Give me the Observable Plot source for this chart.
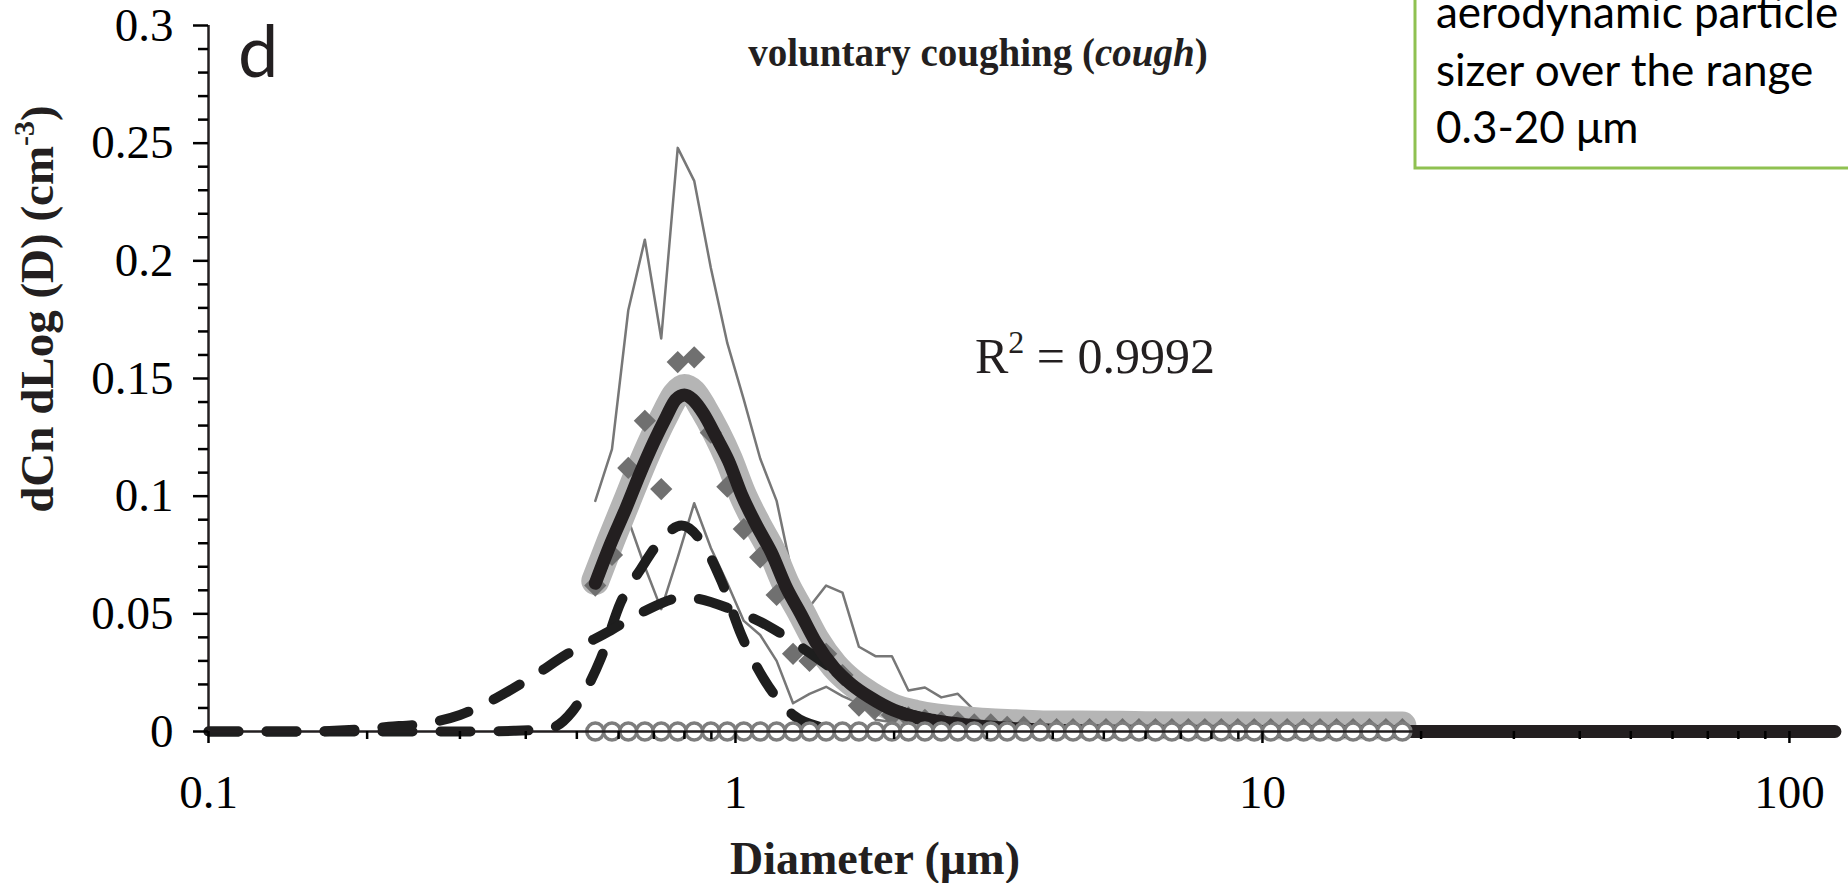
<!DOCTYPE html>
<html><head><meta charset="utf-8">
<script src="https://cdn.jsdelivr.net/npm/d3@7"></script>
<script src="https://cdn.jsdelivr.net/npm/@observablehq/plot@0.6"></script>
<style>html,body{margin:0;padding:0;background:#fff;overflow:hidden}</style>
</head><body><div id="chart"></div>
<script>
// ---------- data ----------
// APS channel mid-point diameters (µm)
const diam = [0.542, 0.583, 0.626, 0.673, 0.723, 0.777, 0.835, 0.898, 0.965, 1.037,
  1.114, 1.197, 1.286, 1.382, 1.486, 1.596, 1.715, 1.843, 1.981, 2.129,
  2.288, 2.458, 2.642, 2.839, 3.051, 3.278, 3.523, 3.786, 4.068, 4.371,
  4.698, 5.048, 5.425, 5.829, 6.264, 6.732, 7.234, 7.774, 8.354, 8.977,
  9.647, 10.37, 11.14, 11.97, 12.86, 13.82, 14.86, 15.96, 17.15, 18.43];
// mean concentration (diamonds)
const meanVal = [0.062, 0.075, 0.112, 0.132, 0.103, 0.157, 0.159, 0.127, 0.104, 0.086,
  0.074, 0.058, 0.033, 0.030, 0.033, 0.024, 0.011, 0.010, 0.007, 0.006,
  0.005, 0.004, 0.004, 0.003, 0.003, 0.002, 0.002, 0.001, 0.001, 0.001,
  0.001, 0.001, 0.001, 0.001, 0.001, 0.001, 0.001, 0.001, 0.001, 0.001,
  0.001, 0.001, 0.001, 0.001, 0.001, 0.001, 0.001, 0.001, 0.001, 0.001];
// zero reference (open circles)
const zeroVal = [0,0,0,0,0,0,0,0,0,0, 0,0,0,0,0,0,0,0,0,0, 0,0,0,0,0,0,0,0,0,0,
  0,0,0,0,0,0,0,0,0,0, 0,0,0,0,0,0,0,0,0,0];
// upper and lower thin envelopes (first 29 channels)
const upperVal = [0.098, 0.120, 0.179, 0.209, 0.167, 0.248, 0.234, 0.197, 0.165, 0.141,
  0.116, 0.098, 0.065, 0.053, 0.062, 0.059, 0.036, 0.032, 0.032, 0.0174,
  0.0187, 0.0145, 0.016, 0.009, 0.007, 0.005, 0.004, 0.003, 0.002];
const lowerVal = [0.060, 0.075, 0.090, 0.070, 0.052, 0.074, 0.097, 0.078, 0.063, 0.047,
  0.041, 0.030, 0.012, 0.016, 0.019, 0.015, 0.012, 0.005, 0.004, 0.003,
  0.003, 0.002, 0.002, 0.002, 0.001, 0.001, 0.001, 0.001, 0.001];
// total fitted distribution (thick black)
const fitD = [0.542, 0.58, 0.62, 0.66, 0.70, 0.74, 0.77, 0.80, 0.83, 0.87,
  0.92, 0.97, 1.03, 1.10, 1.17, 1.25, 1.33, 1.42, 1.54, 1.66,
  1.80, 2.0, 2.2, 2.4, 2.7, 3.0, 3.4, 3.9, 4.5, 6.0, 10, 20, 50, 122];
const fitVal = [0.063, 0.080, 0.095, 0.110, 0.123, 0.134, 0.141, 0.143, 0.141, 0.135,
  0.125, 0.115, 0.100, 0.087, 0.076, 0.061, 0.050, 0.038, 0.027, 0.020,
  0.0145, 0.009, 0.006, 0.0045, 0.003, 0.002, 0.0012, 0.0006, 0.0003, 0.0001, 0, 0, 0, 0];
// smoothed data curve (wide light grey)
const bandD = [0.542, 0.58, 0.62, 0.66, 0.70, 0.74, 0.77, 0.80, 0.83, 0.87,
  0.92, 0.97, 1.03, 1.10, 1.17, 1.25, 1.33, 1.42, 1.54, 1.66,
  1.80, 2.0, 2.2, 2.4, 2.7, 3.0, 3.4, 3.9, 4.5, 6.0, 10, 18.43];
const bandVal = [0.064, 0.081, 0.097, 0.112, 0.125, 0.136, 0.143, 0.146, 0.144, 0.137,
  0.127, 0.116, 0.101, 0.088, 0.077, 0.062, 0.051, 0.039, 0.028, 0.021,
  0.0155, 0.010, 0.0075, 0.006, 0.0048, 0.004, 0.0035, 0.003, 0.003, 0.0027, 0.0025, 0.0025];
// lognormal mode 1 (narrow, dashed)
const modeAD = [0.1, 0.2, 0.3, 0.38, 0.44, 0.49, 0.555, 0.606, 0.661, 0.72,
  0.79, 0.86, 0.94, 1.026, 1.13, 1.29, 1.45, 1.7, 2.0];
const modeAVal = [0, 0, 0, 0.0003, 0.001, 0.0085, 0.031, 0.055, 0.069, 0.081,
  0.0875, 0.081, 0.064, 0.041, 0.0226, 0.0068, 0.002, 0.0003, 0];
// lognormal mode 2 (broad, dashed)
const modeBD = [0.1, 0.15, 0.19, 0.22, 0.25, 0.3, 0.35, 0.41, 0.48, 0.58,
  0.67, 0.8, 0.98, 1.15, 1.33, 1.54, 1.8, 2.1, 2.5, 3.0, 3.6, 4.5];
const modeBVal = [0, 0, 0.0008, 0.002, 0.003, 0.007, 0.014, 0.023, 0.033, 0.043,
  0.051, 0.057, 0.052, 0.045, 0.036, 0.026, 0.0145, 0.008, 0.0045, 0.002, 0.0008, 0.0002];

// axes
const xMajor = [0.1, 1, 10, 100];
const xTickLabels = ["0.1", "1", "10", "100"];
const xMinor = [0.2, 0.3, 0.4, 0.5, 0.6, 0.7, 0.8, 0.9, 2, 3, 4, 5, 6, 7, 8, 9,
  20, 30, 40, 50, 60, 70, 80, 90];
const yMajor = [0, 0.05, 0.1, 0.15, 0.2, 0.25, 0.3];
const yTickLabels = ["0", "0.05", "0.1", "0.15", "0.2", "0.25", "0.3"];
const yMinor = [0.01, 0.02, 0.03, 0.04, 0.06, 0.07, 0.08, 0.09, 0.11, 0.12, 0.13, 0.14,
  0.16, 0.17, 0.18, 0.19, 0.21, 0.22, 0.23, 0.24, 0.26, 0.27, 0.28, 0.29];

// texts
const titleMain = "voluntary coughing (";
const titleItalic = "cough";
const titleEnd = ")";
const panelLetter = "d";
const xLabel = "Diameter (\u00b5m)";
const yLabelMain = "dCn dLog (D) (cm";
const yLabelSup = "-3";
const yLabelEnd = ")";
const r2Label = "R";
const r2Sup = "2";
const r2Value = " = 0.9992";
const noteLines = ["aerodynamic particle", "sizer over the range", "0.3-20 \u03bcm"];

// ---------- tables ----------
const zip = (xs, ys) => ys.map((v, i) => ({d: xs[i], v}));
const meanData = zip(diam, meanVal);
const zeroData = zip(diam, zeroVal);
const upperData = zip(diam, upperVal);
const lowerData = zip(diam, lowerVal);
const fitData = zip(fitD, fitVal);
const bandData = zip(bandD, bandVal);
const modeAData = zip(modeAD, modeAVal);
const modeBData = zip(modeBD, modeBVal);

const serif = "'Liberation Serif', 'Times New Roman', serif";
const sans = "Lato, 'Open Sans', sans-serif";

const svg = Plot.plot({
  width: 1848, height: 883,
  marginLeft: 208, marginRight: 8, marginTop: 25, marginBottom: 152,
  style: {fontFamily: serif, fontSize: "47px", color: "black", background: "white", overflow: "visible"},
  x: {type: "log", domain: [0.1, 125]},
  y: {domain: [0, 0.3]},
  marks: [
    Plot.line(upperData, {x: "d", y: "v", stroke: "#777777", strokeWidth: 2.5}),
    Plot.line(lowerData, {x: "d", y: "v", stroke: "#777777", strokeWidth: 2.5}),
    Plot.line(bandData, {x: "d", y: "v", stroke: "#b5b5b5", strokeWidth: 28, curve: "monotone-x", strokeLinecap: "round", strokeLinejoin: "round"}),
    Plot.dot(meanData, {x: "d", y: "v", symbol: "diamond2", r: 10, fill: "#707070", stroke: "none"}),
    Plot.line(modeAData, {x: "d", y: "v", stroke: "#1e1e1e", strokeWidth: 10, curve: "monotone-x", strokeDasharray: "30,28", strokeLinecap: "round"}),
    Plot.line(modeBData, {x: "d", y: "v", stroke: "#1e1e1e", strokeWidth: 10, curve: "monotone-x", strokeDasharray: "30,28", strokeLinecap: "round"}),
    Plot.line(fitData, {x: "d", y: "v", stroke: "#231f20", strokeWidth: 13, curve: "monotone-x", strokeLinecap: "round", strokeLinejoin: "round"}),
    Plot.dot(zeroData, {x: "d", y: "v", r: 8.5, stroke: "#7d7d7d", strokeWidth: 3.5, fill: "white"}),
    Plot.ruleY([0], {stroke: "#231f20", strokeWidth: 2.5}),
    Plot.ruleX([0.1], {stroke: "#231f20", strokeWidth: 2.5}),
    Plot.axisX({ticks: xMajor, tickSize: 12, tickPadding: 31, strokeWidth: 2.5, fontSize: 47, label: null,
      tickFormat: d => xTickLabels[xMajor.indexOf(d)]}),
    Plot.axisX({ticks: xMinor, tickSize: 8, strokeWidth: 2.5, label: null, tickFormat: () => ""}),
    Plot.axisY({ticks: yMajor, tickSize: 15, tickPadding: 20, strokeWidth: 2.5, fontSize: 47, label: null,
      tickFormat: d => yTickLabels[yMajor.indexOf(d)]}),
    Plot.axisY({ticks: yMinor, tickSize: 10, strokeWidth: 2.5, label: null, tickFormat: () => ""})
  ]
});

const s = d3.select(svg);

// title
const t = s.append("text").attr("x", 978).attr("y", 66).attr("text-anchor", "middle")
  .attr("font-family", serif).attr("font-weight", "bold").attr("font-size", 39).attr("fill", "#231f20");
t.append("tspan").text(titleMain);
t.append("tspan").attr("font-style", "italic").text(titleItalic);
t.append("tspan").text(titleEnd);

// panel letter
s.append("text").attr("x", 238).attr("y", 77).attr("text-anchor", "start").attr("font-family", sans)
  .attr("font-size", 72).attr("fill", "#231f20").text(panelLetter);

// R^2
const r = s.append("text").attr("x", 975).attr("y", 373).attr("text-anchor", "start")
  .attr("font-family", serif).attr("font-size", 50).attr("fill", "#231f20");
r.append("tspan").text(r2Label);
r.append("tspan").attr("font-size", 32).attr("dy", -20).text(r2Sup);
r.append("tspan").attr("dy", 20).text(r2Value);

// x label
s.append("text").attr("x", 875).attr("y", 874).attr("text-anchor", "middle")
  .attr("font-family", serif).attr("font-weight", "bold").attr("font-size", 46).attr("fill", "#231f20").text(xLabel);

// y label
const yl = s.append("text").attr("transform", "translate(53,309) rotate(-90)").attr("text-anchor", "middle")
  .attr("font-family", serif).attr("font-weight", "bold").attr("font-size", 47).attr("fill", "#231f20");
yl.append("tspan").text(yLabelMain);
yl.append("tspan").attr("font-size", 30).attr("dy", -19).text(yLabelSup);
yl.append("tspan").attr("dy", 19).text(yLabelEnd);

// note box
s.append("rect").attr("x", 1415).attr("y", -10).attr("width", 450).attr("height", 178)
  .attr("fill", "white").attr("stroke", "#8fc151").attr("stroke-width", 3);
noteLines.forEach((line, i) => {
  s.append("text").attr("x", 1436).attr("y", 28 + 57.5 * i).attr("text-anchor", "start")
    .attr("font-family", sans).attr("font-size", 44).attr("fill", "black").text(line);
});

document.getElementById("chart").appendChild(svg);
</script></body></html>
